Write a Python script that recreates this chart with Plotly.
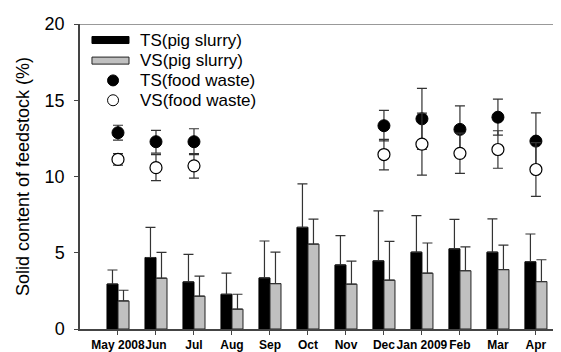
import plotly.graph_objects as go

months = ["May 2008", "Jun", "Jul", "Aug", "Sep", "Oct", "Nov", "Dec", "Jan 2009", "Feb", "Mar", "Apr"]
ts_pig = [2.95, 4.69, 3.09, 2.28, 3.35, 6.67, 4.2, 4.47, 5.04, 5.26, 5.04, 4.41]
ts_pig_err = [0.92, 1.98, 1.8, 1.38, 2.42, 2.85, 1.92, 3.27, 2.39, 1.93, 2.18, 1.82]
vs_pig = [1.84, 3.33, 2.15, 1.3, 2.98, 5.57, 2.94, 3.2, 3.66, 3.82, 3.9, 3.11]
vs_pig_err = [0.7, 1.69, 1.32, 0.98, 2.06, 1.64, 1.51, 2.55, 1.98, 1.57, 1.6, 1.43]
ts_food = [12.87, 12.28, 12.28, None, None, None, None, 13.33, 13.78, 13.09, 13.89, 12.32]
ts_food_err = [0.49, 0.75, 0.85, 0, 0, 0, 0, 1.0, 2.0, 1.54, 1.18, 1.85]
vs_food = [11.12, 10.58, 10.7, None, None, None, None, 11.44, 12.12, 11.52, 11.77, 10.46]
vs_food_err = [0.38, 0.85, 0.8, 0, 0, 0, 0, 1.0, 2.03, 1.32, 1.23, 1.76]

legend_labels = ["TS(pig slurry)", "VS(pig slurry)", "TS(food waste)", "VS(food waste)"]

FONT = "Arial, Liberation Sans, sans-serif"
x = list(range(len(months)))

fig = go.Figure()
fig.add_trace(go.Bar(
    x=x, y=ts_pig, name=legend_labels[0], marker=dict(color="black", line=dict(color="black", width=1)),
    error_y=dict(type="data", array=ts_pig_err, arrayminus=[0] * 12, symmetric=False,
                 color="#333333", thickness=1.2, width=5)))
fig.add_trace(go.Bar(
    x=x, y=vs_pig, name=legend_labels[1], marker=dict(color="#c0c0c0", line=dict(color="#222222", width=1)),
    error_y=dict(type="data", array=vs_pig_err, arrayminus=[0] * 12, symmetric=False,
                 color="#333333", thickness=1.2, width=5)))
fig.add_trace(go.Scatter(
    x=x, y=ts_food, mode="markers", name=legend_labels[2],
    marker=dict(color="black", size=12, line=dict(color="black", width=1)),
    error_y=dict(type="data", array=ts_food_err, color="#333333", thickness=1.2, width=5)))
fig.add_trace(go.Scatter(
    x=x, y=vs_food, mode="markers", name=legend_labels[3],
    marker=dict(color="white", size=12, line=dict(color="black", width=1.2)),
    error_y=dict(type="data", array=vs_food_err, color="#333333", thickness=1.2, width=5)))

# manual legend (top-left, inside plot)
rows_y = [18.95, 17.6, 16.3, 15.0]
shapes = []
shapes.append(dict(type="rect", xref="x", yref="y", x0=-0.685, x1=0.29, y0=rows_y[0] - 0.23, y1=rows_y[0] + 0.23,
                   fillcolor="black", line=dict(color="black", width=1)))
shapes.append(dict(type="rect", xref="x", yref="y", x0=-0.685, x1=0.29, y0=rows_y[1] - 0.23, y1=rows_y[1] + 0.23,
                   fillcolor="#c0c0c0", line=dict(color="#222222", width=1)))
for i, fill in [(2, "black"), (3, "white")]:
    shapes.append(dict(type="circle", xref="x", yref="y", xsizemode="pixel", ysizemode="pixel",
                       xanchor=-0.13, yanchor=rows_y[i], x0=-5.5, x1=5.5, y0=-5.5, y1=5.5,
                       fillcolor=fill, line=dict(color="black", width=1)))
# top frame line
shapes.append(dict(type="line", xref="paper", yref="y", x0=0, x1=1, y0=20, y1=20,
                   line=dict(color="#777777", width=1.5)))
annotations = [dict(x=0.53, y=rows_y[i], xref="x", yref="y", text=legend_labels[i], showarrow=False,
                    xanchor="left", yanchor="middle", font=dict(family=FONT, size=17, color="black"))
               for i in range(4)]

fig.update_layout(
    width=553, height=344,
    margin=dict(l=72, r=0, t=16, b=23),
    paper_bgcolor="white", plot_bgcolor="white",
    barmode="group", bargap=0.42, bargroupgap=0,
    showlegend=False,
    shapes=shapes, annotations=annotations,
    font=dict(family=FONT, color="black"),
)
fig.update_xaxes(
    range=[-1, 11.66], tickmode="array", tickvals=x, ticktext=months, tickangle=0, automargin=False,
    showline=True, linecolor="#444444", linewidth=1.5, ticks="outside", ticklen=4, tickcolor="#444444",
    tickfont=dict(family=FONT, size=12, color="black", weight="bold"), showgrid=False, zeroline=False,
)
fig.update_yaxes(
    range=[0, 20], tickvals=[0, 5, 10, 15, 20], showline=True, linecolor="#444444", linewidth=1.5,
    ticks="outside", ticklen=4, tickcolor="#444444", ticklabelstandoff=6, automargin=False,
    tickfont=dict(family=FONT, size=18, color="black"), showgrid=False, zeroline=False,
    title=dict(text="Solid content of feedstock (%)", font=dict(family=FONT, size=18, color="black"), standoff=10),
)
fig.write_html("out.html")
